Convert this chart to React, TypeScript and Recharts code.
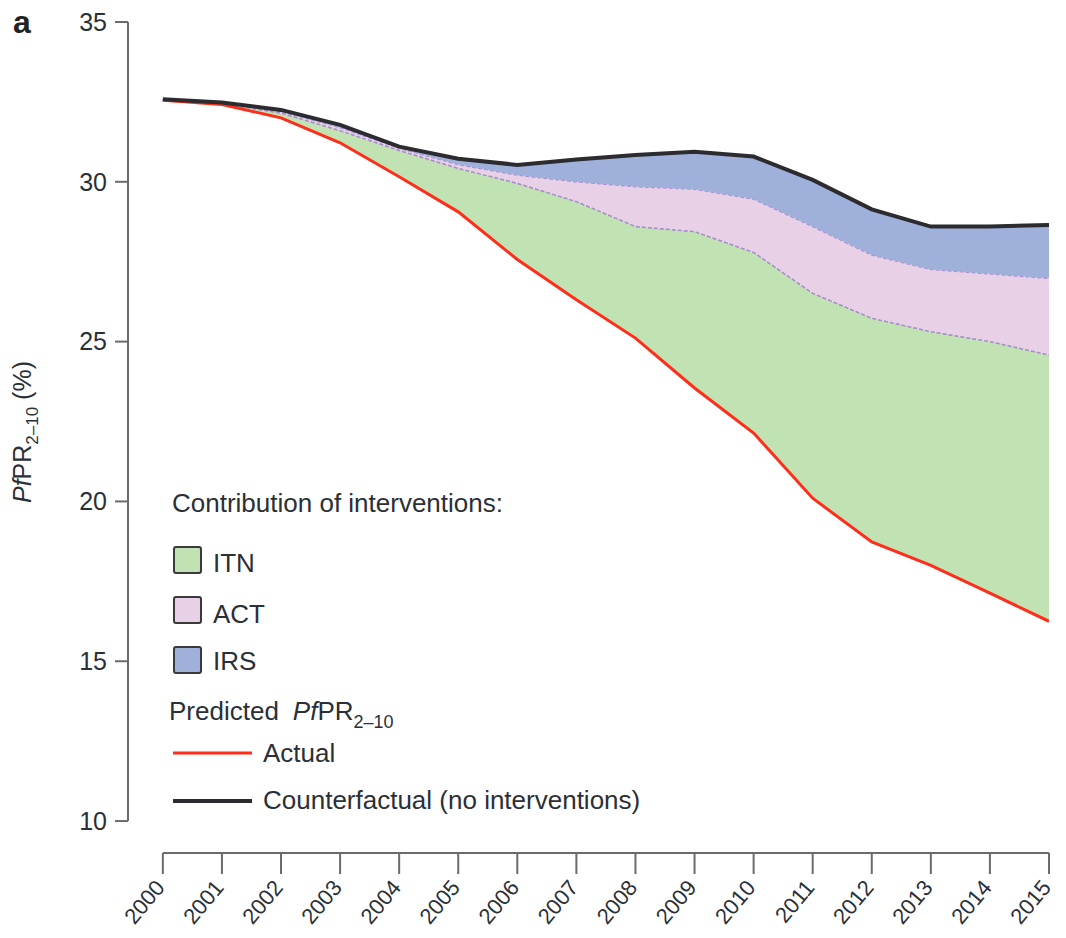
import React from 'react'
import {
  ComposedChart, Area, Line, XAxis, YAxis, ReferenceLine,
} from 'recharts'

const years = [2000, 2001, 2002, 2003, 2004, 2005, 2006, 2007, 2008, 2009, 2010, 2011, 2012, 2013, 2014, 2015]
const actual = [32.55, 32.42, 32.0, 31.22, 30.16, 29.06, 27.57, 26.31, 25.11, 23.55, 22.14, 20.1, 18.73, 18.0, 17.13, 16.25]
const itnTop = [32.56, 32.45, 32.15, 31.6, 30.98, 30.42, 29.95, 29.38, 28.6, 28.44, 27.79, 26.51, 25.73, 25.31, 25.0, 24.58]
const actTop = [32.56, 32.46, 32.2, 31.7, 31.05, 30.54, 30.21, 30.0, 29.85, 29.77, 29.46, 28.6, 27.71, 27.26, 27.12, 26.98]
const counterfactual = [32.58, 32.48, 32.25, 31.78, 31.1, 30.72, 30.53, 30.7, 30.84, 30.94, 30.79, 30.06, 29.14, 28.6, 28.6, 28.65]
const yTicks = [10, 15, 20, 25, 30, 35]

const data = years.map((year, i) => ({
  year,
  actual: actual[i],
  itn: [actual[i], itnTop[i]],
  act: [itnTop[i], actTop[i]],
  irs: [actTop[i], counterfactual[i]],
  counterfactual: counterfactual[i],
}))

const FONT = '"Liberation Sans", Arial, Helvetica, sans-serif'
const TEXT = '#2b2f36'
const AXIS = '#6b6b6b'

const GREEN = '#c1e2b2'
const PINK = '#e8d0e6'
const BLUE = '#9fb0da'
const RED = '#ff2d1a'
const BLACK = '#2b2b30'

const YearTick = ({ x, y, payload }: any) => (
  <text
    x={x + 3}
    y={y + 12}
    transform={`rotate(-50, ${x + 3}, ${y + 12})`}
    textAnchor="end"
    fontSize={22}
    fontFamily={FONT}
    fill={TEXT}
  >
    {payload.value}
  </text>
)

// legend drawn in page coordinates, offset (150, 470)
const LegendBox = () => (
  <svg width={560} height={360} style={{ position: 'absolute', left: 150, top: 470, fontFamily: FONT }}>
    <text x={22} y={42} fontSize={26} fill={TEXT}>Contribution of interventions:</text>
    {[
      { label: 'ITN', fill: GREEN, top: 77, base: 102 },
      { label: 'ACT', fill: PINK, top: 127, base: 153 },
      { label: 'IRS', fill: BLUE, top: 177, base: 200 },
    ].map(s => (
      <g key={s.label}>
        <rect x={24} y={s.top} width={27} height={26} fill={s.fill} stroke="#3a3a3a" strokeWidth={2} rx={2} />
        <text x={63} y={s.base} fontSize={26} fill={TEXT}>{s.label}</text>
      </g>
    ))}
    <text x={19} y={250} fontSize={26} fill={TEXT}>
      Predicted
      <tspan dx={14} fontStyle="italic">Pf</tspan>
      <tspan>PR</tspan>
      <tspan fontSize={18} dy={8}>2–10</tspan>
    </text>
    <line x1={23} x2={102} y1={283} y2={283} stroke={RED} strokeWidth={3} />
    <text x={113} y={292} fontSize={26} fill={TEXT}>Actual</text>
    <line x1={23} x2={102} y1={331} y2={331} stroke={BLACK} strokeWidth={4} />
    <text x={113} y={339} fontSize={26} fill={TEXT}>Counterfactual (no interventions)</text>
  </svg>
)

export default function App() {
  return (
    <div style={{ position: 'absolute', left: 0, top: 0, width: 1066, height: 938, background: '#fff' }}>
      <ComposedChart
        width={1066}
        height={938}
        data={data}
        margin={{ top: 22, right: 17, left: 68, bottom: 5 }}
        style={{ position: 'absolute', left: 0, top: 0 }}
      >
        <XAxis
          dataKey="year"
          type="number"
          domain={[1999.41, 2015]}
          allowDataOverflow
          ticks={years}
          interval={0}
          axisLine={false}
          tickLine={{ stroke: AXIS, strokeWidth: 2 }}
          tickSize={21}
          height={80}
          tick={<YearTick />}
        />
        <YAxis
          type="number"
          domain={[9, 35]}
          allowDataOverflow
          ticks={yTicks}
          interval={0}
          axisLine={false}
          tickLine={{ stroke: AXIS, strokeWidth: 2 }}
          tickSize={13}
          tickMargin={8}
          width={60}
          tick={{ fontSize: 25, fontFamily: FONT, fill: TEXT }}
        />
        <ReferenceLine
          segment={[{ x: 1999.41, y: 10 }, { x: 1999.41, y: 35 }]}
          stroke={AXIS}
          strokeWidth={2}
          ifOverflow="visible"
        />
        <ReferenceLine
          segment={[{ x: 2000, y: 9 }, { x: 2015, y: 9 }]}
          stroke={AXIS}
          strokeWidth={2}
          ifOverflow="visible"
        />
        <Area type="linear" dataKey="itn" fill={GREEN} fillOpacity={1} stroke="#86c079" strokeWidth={1} strokeDasharray="4 2" isAnimationActive={false} />
        <Area type="linear" dataKey="act" fill={PINK} fillOpacity={1} stroke="#a98bd0" strokeWidth={1.5} strokeDasharray="4 2" isAnimationActive={false} />
        <Area type="linear" dataKey="irs" fill={BLUE} fillOpacity={1} stroke="none" isAnimationActive={false} />
        <Line type="linear" dataKey="actual" stroke={RED} strokeWidth={3} dot={false} isAnimationActive={false} />
        <Line type="linear" dataKey="counterfactual" stroke={BLACK} strokeWidth={4} dot={false} isAnimationActive={false} />
      </ComposedChart>
      <svg width={60} height={938} style={{ position: 'absolute', left: 0, top: 0 }}>
        <text x={13} y={33} fontSize={32} fontWeight="bold" fontFamily={FONT} fill="#222">a</text>
        <text
          transform="translate(31, 432) rotate(-90)"
          textAnchor="middle"
          fontSize={25}
          fontFamily={FONT}
          fill={TEXT}
        >
          <tspan fontStyle="italic">Pf</tspan>
          <tspan>PR</tspan>
          <tspan fontSize={17} dy={7}>2–10</tspan>
          <tspan dy={-7}> (%)</tspan>
        </text>
      </svg>
      <LegendBox />
    </div>
  )
}
